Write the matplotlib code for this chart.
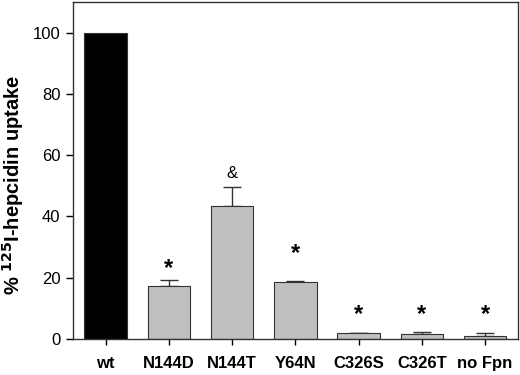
import matplotlib
matplotlib.use("Agg")
import matplotlib.pyplot as plt
import numpy as np

plt.rcParams['font.family'] = ['Liberation Sans', 'DejaVu Sans']

labels = ['wt', 'N144D', 'N144T', 'Y64N', 'C326S', 'C326T', 'no Fpn']
uptake = [100, 17.2, 43.4, 18.7, 1.8, 1.5, 1.0]
err = [0, 2.1, 6.3, 0.3, 0.1, 0.9, 0.8]
marks = ['', '*', '&', '*', '*', '*', '*']
mark_y = [0, 23, 54, 28, 8, 8, 8]

colors = ['black'] + ['#c0c0c0'] * 6

fig = plt.figure(figsize=(5.2, 3.75), dpi=100)
ax = fig.add_axes([0.140, 0.096, 0.856, 0.899])

x = np.arange(len(labels))
ax.bar(x, uptake, width=0.67, color=colors, edgecolor='#333333', linewidth=0.8, zorder=2)
ax.errorbar(x[1:], uptake[1:], yerr=[np.zeros(6), err[1:]], fmt='none',
            ecolor='#333333', elinewidth=1.0, capsize=6.5, capthick=1.0, zorder=1)

for xi, m, my in zip(x, marks, mark_y):
    if m == '*':
        ax.text(xi, my, m, ha='center', va='center', fontsize=17, fontweight='bold')
    elif m:
        ax.text(xi, my, m, ha='center', va='center', fontsize=12)

ax.set_xlim(-0.52, 6.52)
ax.set_ylim(0, 110)
ax.set_yticks(range(0, 101, 20))
ax.set_xticks(x)
ax.set_xticklabels(labels, fontweight='bold', fontsize=12)
ax.tick_params(axis='y', labelsize=12, length=5, width=1, direction='out', pad=4)
ax.tick_params(axis='x', length=4, width=1, direction='out', pad=8)
ax.set_ylabel('% $^{\\mathbf{125}}$I-hepcidin uptake', fontweight='bold', fontsize=14.5)
ax.yaxis.set_label_coords(-0.106, 0.457)
for s in ax.spines.values():
    s.set_linewidth(1.0)
    s.set_color('#333333')

fig.savefig('out.png', dpi=100)
